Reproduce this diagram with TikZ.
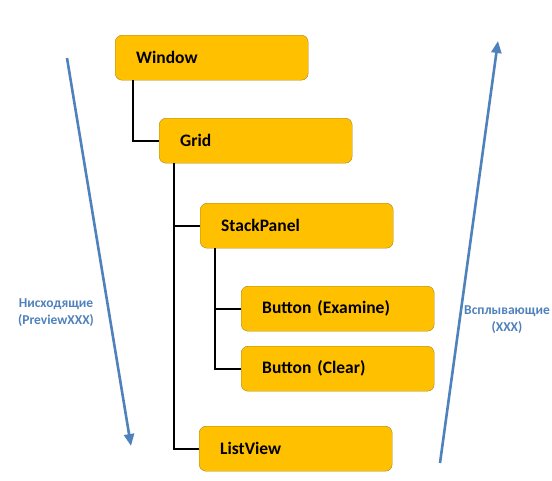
\documentclass[tikz,border=0pt]{standalone}
\usepackage{fontspec}
\setmainfont{Carlito}
\usepackage{tikz}
\usetikzlibrary{arrows.meta}
\definecolor{boxfill}{RGB}{255,192,0}
\definecolor{boxline}{RGB}{170,130,20}
\definecolor{flow}{RGB}{79,129,189}
\tikzstyle{elem}=[fill=boxfill, draw=boxline, rounded corners=7pt, anchor=north west,
        text width=151pt, align=left, inner xsep=21pt, inner ysep=0pt,
        minimum height=45pt, font=\fontsize{17.5}{20}\selectfont\bfseries]
\tikzstyle{tree}=[draw=black, line width=1.6pt]
\tikzstyle{route}=[draw=flow, line width=2.6pt, -{Triangle[length=12pt,width=10pt]}]
\tikzstyle{note}=[align=center, text=flow, font=\fontsize{13.5}{17}\selectfont\bfseries]

\begin{document}
\begin{tikzpicture}[x=1pt, y=-1pt]
    \useasboundingbox (0,0) rectangle (552,480);

        \node[elem] (win) at (115,35) {Window};
        \node[elem] (grid) at (159,118) {Grid};
        \node[elem] (stack) at (200,203) {StackPanel};
        \node[elem] (btnE) at (241,286) {Button (Examine)};
        \node[elem] (btnC) at (241,346) {Button (Clear)};
        \node[elem] (list) at (199,426) {ListView};

        \draw[tree] ([xshift=18pt]win.south west) |- (grid.west);
        \draw[tree] ([xshift=15pt]grid.south west) |- (list.west);
        \draw[tree] ([xshift=15pt]grid.south west) |- (stack.west);
        \draw[tree] ([xshift=15pt]stack.south west) |- (btnC.west);
        \draw[tree] ([xshift=15pt]stack.south west) |- (btnE.west);

        % event routes
        \coordinate (dnS) at (67,58);
        \coordinate (dnE) at (131,446);
        \coordinate (upS) at (440,463);
        \coordinate (upE) at (498,41);
        \draw[route] (dnS) -- (dnE);
        \draw[route] (upS) -- (upE);

        \node[note] (dnT) at (56,313) {Нисходящие\\(PreviewXXX)};
        \node[note] (upT) at (507,320) {Всплывающие\\(XXX)};

    \end{tikzpicture}
\end{document}
